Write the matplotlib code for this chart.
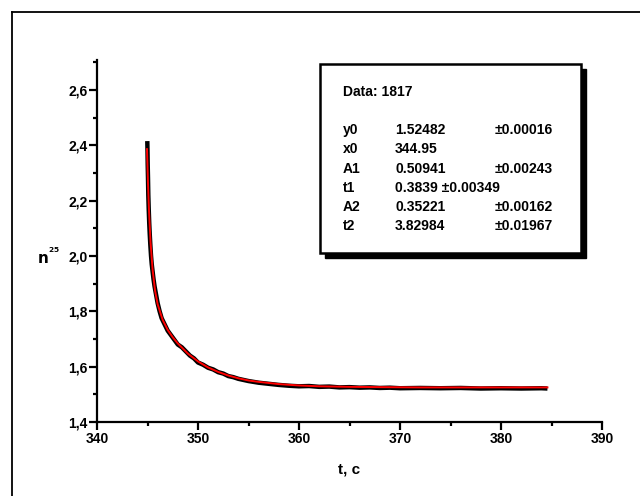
import matplotlib
matplotlib.use("Agg")
import matplotlib.pyplot as plt
from matplotlib.patches import Rectangle
from matplotlib.lines import Line2D
from matplotlib.ticker import MultipleLocator, FuncFormatter

plt.rcParams['font.family'] = ['Liberation Sans', 'DejaVu Sans']

# measured data (black)
data_x = [344.98, 345.0, 345.02, 345.05, 345.08, 345.12, 345.17, 345.22, 345.28, 345.35,
          345.42, 345.5, 345.6, 345.7, 345.85, 346.0, 346.2, 346.4, 346.6, 346.8,
          347.0, 347.3, 347.6, 348.0, 348.4, 348.8, 349.2, 349.6, 350.0, 350.5,
          351.0, 351.5, 352.0, 352.5, 353.0, 353.5, 354.0, 355.0, 356.0, 357.0,
          358.0, 359.0, 360.0, 361.0, 362.0, 363.0, 364.0, 365.0, 366.0, 367.0,
          368.0, 369.0, 370.0, 372.0, 374.0, 376.0, 378.0, 380.0, 382.0, 384.0, 384.6]
data_y = [2.415, 2.38, 2.33, 2.28, 2.22, 2.17, 2.12, 2.08, 2.04, 2.00,
          1.97, 1.945, 1.915, 1.89, 1.86, 1.83, 1.80, 1.775, 1.76, 1.745,
          1.73, 1.715, 1.70, 1.68, 1.67, 1.655, 1.64, 1.63, 1.615, 1.607,
          1.596, 1.590, 1.580, 1.575, 1.566, 1.562, 1.556, 1.548, 1.542, 1.538,
          1.534, 1.531, 1.529, 1.530, 1.527, 1.528, 1.525, 1.526, 1.524, 1.525,
          1.523, 1.524, 1.522, 1.523, 1.522, 1.523, 1.521, 1.522, 1.521, 1.522, 1.521]

# fitted curve (red)
fit_x = [344.95, 345.05, 345.15, 345.3, 345.5, 345.75, 346.0, 346.5, 347.0, 347.5,
         348.0, 349.0, 350.0, 351.0, 352.0, 353.0, 354.0, 355.0, 356.0, 358.0,
         360.0, 362.0, 365.0, 368.0, 372.0, 376.0, 380.0, 384.6]
fit_y = [2.386, 2.261, 2.162, 2.051, 1.952, 1.874, 1.826, 1.769, 1.733, 1.706,
         1.684, 1.647, 1.619, 1.597, 1.581, 1.568, 1.558, 1.550, 1.545, 1.537,
         1.532, 1.529, 1.527, 1.526, 1.525, 1.525, 1.525, 1.525]

param_names = ["y0", "x0", "A1", "t1", "A2", "t2"]
param_values = ["1.52482", "344.95", "0.50941", "0.3839 \u00b10.00349", "0.35221", "3.82984"]
param_errors = ["\u00b10.00016", "", "\u00b10.00243", "", "\u00b10.00162", "\u00b10.01967"]
data_title = "Data: 1817"

W, H = 640, 496
fig = plt.figure(figsize=(6.4, 4.96), dpi=100)
ax = fig.add_axes([97 / W, 1 - 422 / H, (602 - 97) / W, (422 - 60) / H])

ax.plot(data_x, data_y, color='black', lw=3.2, solid_capstyle='butt')
ax.plot(fit_x, fit_y, color='#ff0000', lw=1.4)

ax.set_xlim(340, 390)
ax.set_ylim(1.4, 2.708)
ax.xaxis.set_major_locator(MultipleLocator(10))
ax.xaxis.set_minor_locator(MultipleLocator(5))
ax.yaxis.set_major_locator(MultipleLocator(0.2))
ax.yaxis.set_minor_locator(MultipleLocator(0.1))
ax.yaxis.set_major_formatter(FuncFormatter(lambda v, p: f"{v:.1f}".replace('.', ',') if v <= 2.61 else ""))
ax.xaxis.set_major_formatter(FuncFormatter(lambda v, p: f"{v:.0f}"))

for s in ['top', 'right']:
    ax.spines[s].set_visible(False)
for s in ['left', 'bottom']:
    ax.spines[s].set_linewidth(1.6)
ax.tick_params(which='major', direction='out', length=6, width=1.6, labelsize=10, pad=1)
ax.tick_params(which='minor', direction='out', length=3, width=1.6)
for lab in ax.get_xticklabels() + ax.get_yticklabels():
    lab.set_fontweight('bold')

ax.set_xlabel("t, c", fontsize=11, fontweight='bold', labelpad=12)
fig.text(48 / W, 1 - 257 / H, r"$\mathbf{n}^{\mathbf{^{25}}}$", fontsize=11, ha='center', va='center')

# outer frame (only top and left edges visible)
fig.add_artist(Line2D([12 / W, 12 / W], [1 - 12 / H, 0], color='black', lw=1.3, transform=fig.transFigure))
fig.add_artist(Line2D([12 / W, 1], [1 - 12 / H, 1 - 12 / H], color='black', lw=1.3, transform=fig.transFigure))

# fit parameter box with shadow
bx0, by0, bx1, by1 = 320, 64, 581, 253
sh = 5
fig.add_artist(Rectangle(((bx0 + sh) / W, 1 - (by1 + sh) / H), (bx1 - bx0) / W, (by1 - by0) / H,
                         transform=fig.transFigure, facecolor='black', edgecolor='black', zorder=5))
fig.add_artist(Rectangle((bx0 / W, 1 - by1 / H), (bx1 - bx0) / W, (by1 - by0) / H,
                         transform=fig.transFigure, facecolor='white', edgecolor='black', lw=1.8, zorder=6))

fs = 10
fig.text(343 / W, 1 - 92 / H, data_title, fontsize=fs, fontweight='bold', va='center', ha='left', zorder=7)
row_y = [130, 149, 169, 188, 207, 226]
for i in range(len(param_names)):
    yy = 1 - row_y[i] / H
    fig.text(343 / W, yy, param_names[i], fontsize=fs, fontweight='bold', va='center', ha='left', zorder=7)
    fig.text(395 / W, yy, param_values[i], fontsize=fs, fontweight='bold', va='center', ha='left', zorder=7)
    if param_errors[i]:
        fig.text(495 / W, yy, param_errors[i], fontsize=fs, fontweight='bold', va='center', ha='left', zorder=7)

fig.savefig("out.png", dpi=100)
